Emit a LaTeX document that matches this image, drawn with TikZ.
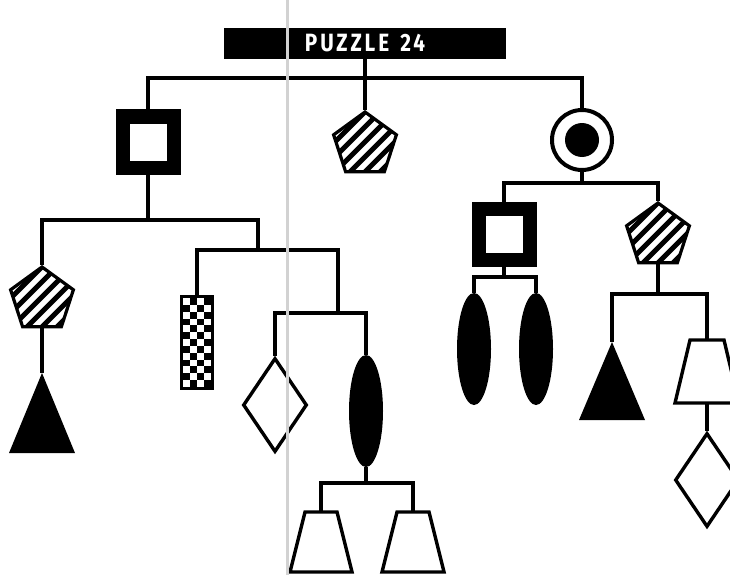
\documentclass[tikz,border=0pt]{standalone}
\usepackage{fontspec}
\newfontfamily\titlefont[LetterSpace=14]{Fira Sans}
\usetikzlibrary{shapes.geometric}
\tikzset{
  wire/.style={line width=3.2pt, line join=miter},
  titlebar/.style={fill=black, minimum width=282pt, minimum height=31pt, inner sep=0pt, text=white,
     font=\titlefont\bfseries\fontsize{25}{25}\selectfont},
  framesq/.style={draw, line width=14pt, minimum size=51pt, inner sep=0pt, fill=white},
  hatch/.style={regular polygon, regular polygon sides=5, draw, line width=3.2pt, minimum size=66pt, inner sep=0pt,
     path picture={\foreach \k in {-8,...,8} \draw[line width=5pt] ([xshift=\k*15pt-50pt, yshift=-50pt]path picture bounding box.center) -- ++(100pt,100pt);}},
  ring/.style={circle, draw, line width=4pt, minimum size=60pt, inner sep=0pt,
     path picture={\fill (path picture bounding box.center) circle (17pt);}},
  blob/.style={ellipse, fill=black, minimum width=34pt, minimum height=112pt, inner sep=0pt},
  dia/.style={diamond, draw, line width=3.4pt, minimum width=64pt, minimum height=94pt, inner sep=0pt},
  outline/.style={line width=3.4pt, line join=miter},
}
\begin{document}
\begin{tikzpicture}[x=1pt,y=-1pt]
\useasboundingbox (0,0) rectangle (730,575);
\fill[white] (0,0) rectangle (730,575);

% title and top level
\node[titlebar] (title) at (365,43.5) {\scalebox{0.83}[1]{PUZZLE\hspace{4pt} 24}};
\coordinate (h0) at (365,78);
\node[framesq] (sqA) at (148,142) {};
\node[hatch] (pentA) at (365,145) {};
\node[ring] (circA) at (582,140) {};
\draw[wire] (title.south) -- (h0);
\draw[wire] (sqA.north) |- (h0) -| (circA.north);
\draw[wire] (h0) -- (pentA.north);

% left subtree
\coordinate (h1) at (148,220);
\coordinate (h2) at (258,250);
\coordinate (h3) at (338,313);
\node[hatch] (pentB) at (42,300) {};
\coordinate (triB) at (42,373);
\fill (triB) -- ++(33,80) -- ++(-66,0) -- cycle;
\draw[wire] (sqA.south) -- (h1);
\draw[wire] (pentB.north) |- (h1) -| (h2);
\draw[wire] (pentB.south) -- (triB);

% checker
\node[draw, line width=3pt, minimum width=31pt, minimum height=92pt, inner sep=0pt] (chk) at (197,342.5) {};
\foreach \i in {0,...,3} {
  \foreach \j in {0,...,12} {
    \pgfmathparse{int(mod(\i+\j,2))}
    \ifnum\pgfmathresult=1
      \fill (183+\i*7, 298+\j*6.846) rectangle ++(7,6.846);
    \fi
  }
}
\node[dia] (dA) at (275,405) {};
\node[blob] (ellA) at (366,411) {};
\draw[wire] (chk.north) |- (h2) -| (h3);
\draw[wire] (dA.north) |- (h3) -| (ellA.north);

\coordinate (h4) at (366,483);
\coordinate (trL) at (321,512);
\coordinate (trR) at (413,512);
\draw[outline] ([xshift=-16pt]trL) -- ++(32,0) -- ++(15,60) -- ++(-62,0) -- cycle;
\draw[outline] ([xshift=-16pt]trR) -- ++(32,0) -- ++(15,60) -- ++(-62,0) -- cycle;
\draw[wire] (ellA.south) -- (h4);
\draw[wire] (trL) |- (h4) -| (trR);

% right subtree
\coordinate (h5) at (582,183);
\node[framesq] (sqB) at (504,234) {};
\node[hatch] (pentC) at (658,236) {};
\draw[wire] (circA.south) -- (h5);
\draw[wire] (sqB.north) |- (h5) -| (pentC.north);

\coordinate (h6) at (504,277);
\node[blob] (ellB) at (474,349) {};
\node[blob] (ellC) at (536,349) {};
\draw[wire] (sqB.south) -- (h6);
\draw[wire] (ellB.north) |- (h6) -| (ellC.north);

\coordinate (h7) at (658,294);
\coordinate (triC) at (612,342);
\fill (triC) -- ++(33,78) -- ++(-66,0) -- cycle;
\coordinate (trC) at (707,340);
\coordinate (trCb) at (707,403);
\draw[outline] ([xshift=-17pt]trC) -- ++(34,0) -- ++(15,63) -- ++(-64,0) -- cycle;
\node[dia] (dC) at (707,480) {};
\draw[wire] (pentC.south) -- (h7);
\draw[wire] (triC) |- (h7) -| (trC);
\draw[wire] (trCb) -- (dC.north);

% scan fold line
\draw[gray!35, line width=3pt] (287,0) -- (287,575);
\end{tikzpicture}
\end{document}
